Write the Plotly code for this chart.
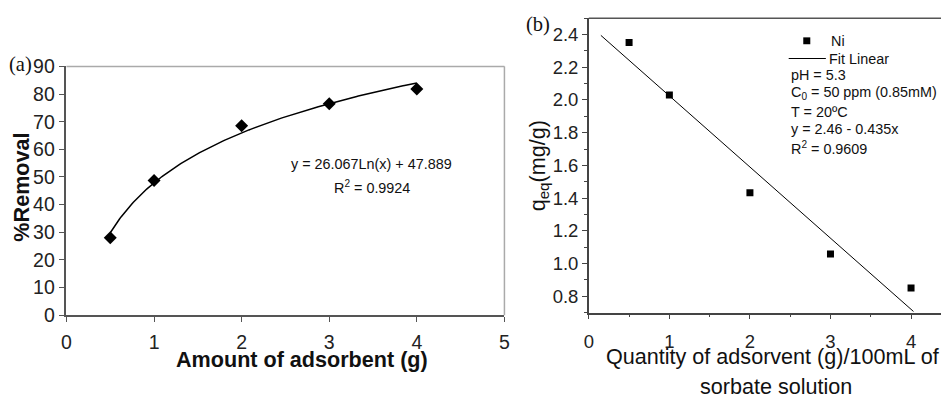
import numpy as np
import plotly.graph_objects as go

W, H = 949, 402
# Empirical mapping from figure pixels to the captured picture
SX, OX = 0.984, 7.8
SY, OY = 0.961, 7.7

# Panel (a) data
a_x = [0.5, 1, 2, 3, 4]
a_y = [28.0, 48.7, 68.5, 76.5, 81.8]
a_fit_coef = [26.067, 47.889]      # y = a*ln(x) + b
a_fit_xrange = [0.5, 4.0]
a_xticks = [0, 1, 2, 3, 4, 5]
a_yticks = [0, 10, 20, 30, 40, 50, 60, 70, 80, 90]

# Panel (b) data
b_x = [0.5, 1, 2, 3, 4]
b_y = [2.352, 2.03, 1.432, 1.058, 0.85]
b_fit_coef = [2.46, -0.435]        # y = a + b*x
b_fit_xrange = [0.15, 4.03]
b_xticks = [0, 1, 2, 3, 4]
b_yticks = [0.8, 1.0, 1.2, 1.4, 1.6, 1.8, 2.0, 2.2, 2.4]

FONT = "Liberation Sans, Arial, sans-serif"

def fxp(x):   # target picture x -> figure x px
    return (x - OX) / SX

def fyp(y):
    return (y - OY) / SY

def px(x):
    return fxp(x) / W

def py(y):
    return 1 - fyp(y) / H

def fs(s):
    return s / ((SX + SY) / 2)

fig = go.Figure()

fx = np.linspace(a_fit_xrange[0], a_fit_xrange[1], 200)
fy = a_fit_coef[0] * np.log(fx) + a_fit_coef[1]
fig.add_trace(go.Scatter(x=fx, y=fy, mode="lines", line=dict(color="black", width=1.5),
                         xaxis="x", yaxis="y", showlegend=False, hoverinfo="skip"))
fig.add_trace(go.Scatter(x=a_x, y=a_y, mode="markers",
                         marker=dict(symbol="diamond", size=10, color="black"),
                         xaxis="x", yaxis="y", showlegend=False))

bx = np.array(b_fit_xrange)
by = b_fit_coef[0] + b_fit_coef[1] * bx
fig.add_trace(go.Scatter(x=bx, y=by, mode="lines", line=dict(color="black", width=1),
                         xaxis="x2", yaxis="y2", showlegend=False, hoverinfo="skip"))
fig.add_trace(go.Scatter(x=b_x, y=b_y, mode="markers",
                         marker=dict(symbol="square", size=7, color="black"),
                         xaxis="x2", yaxis="y2", showlegend=False))

base = dict(showgrid=False, zeroline=False, showline=True, ticks="outside")

# (b) x axis: 80.2 picture px per unit, domain ends at figure edge
b_xmax = (W - fxp(589)) * SX / 80.2

fig.update_layout(
    width=W, height=H,
    margin=dict(l=0, r=0, t=0, b=0),
    paper_bgcolor="white", plot_bgcolor="white",
    showlegend=False,
    xaxis=dict(domain=[px(69), px(505)], range=[0, 5], tickvals=a_xticks,
               linecolor="#555", linewidth=1.5, ticklen=5, tickcolor="#555",
               ticklabelstandoff=4,
               anchor="y", tickfont=dict(family=FONT, size=fs(19), color="#222"), **base),
    yaxis=dict(domain=[py(317), py(64)], range=[0, 90], tickvals=a_yticks,
               linecolor="#555", linewidth=1.5, ticklen=6, tickcolor="#555",
               anchor="x", tickfont=dict(family=FONT, size=fs(19), color="#222"), **base),
    xaxis2=dict(domain=[px(589), 1.0], range=[0, b_xmax], tickvals=b_xticks,
                linecolor="#444", linewidth=1.5, ticklen=5, tickcolor="#444",
                ticklabelstandoff=6,
                minor=dict(dtick=0.5, ticklen=3, ticks="outside", tickcolor="#444"),
                anchor="y2", tickfont=dict(family=FONT, size=fs(18), color="#222"), **base),
    yaxis2=dict(domain=[py(314.3), py(15)], range=[0.7, 2.5], tickvals=b_yticks,
                tickformat=".1f",
                linecolor="#444", linewidth=1.5, ticklen=5, tickcolor="#444",
                minor=dict(dtick=0.1, ticklen=3, ticks="outside", tickcolor="#444"),
                anchor="x2", tickfont=dict(family=FONT, size=fs(18), color="#222"), **base),
)

shapes = [
    dict(type="line", xref="paper", yref="paper", x0=px(69), x1=px(505), y0=py(64), y1=py(64),
         line=dict(color="#aaa", width=1.5)),
    dict(type="line", xref="paper", yref="paper", x0=px(505), x1=px(505), y0=py(64), y1=py(317),
         line=dict(color="#aaa", width=1.5)),
    dict(type="line", xref="paper", yref="paper", x0=px(589), x1=1.0, y0=py(15), y1=py(15),
         line=dict(color="#555", width=1.5)),
    dict(type="rect", xref="paper", yref="paper", x0=px(802.5), x1=px(809.5), y0=py(41.5), y1=py(34.5),
         fillcolor="black", line=dict(width=0)),
    dict(type="line", xref="paper", yref="paper", x0=px(788), x1=px(825), y0=py(56), y1=py(56),
         line=dict(color="black", width=1)),
]
fig.update_layout(shapes=shapes)

def ann(text, x, y, size, xanchor="center", bold=False, angle=0, family=FONT, color="#111"):
    if bold:
        text = "<b>" + text + "</b>"
    return dict(text=text, x=px(x), y=py(y), xref="paper", yref="paper", showarrow=False,
                xanchor=xanchor, yanchor="middle", textangle=angle,
                font=dict(family=family, size=fs(size), color=color))

annotations = [
    ann("(a)", 23, 62, 20, family="Liberation Serif, Times New Roman, serif"),
    ann("(b)", 538, 21, 20, family="Liberation Serif, Times New Roman, serif"),
    ann("%Removal", 24, 187, 21, bold=True, angle=-90),
    ann("Amount of adsorbent (g)", 303, 362, 21, bold=True),
    ann("y = 26.067Ln(x) + 47.889", 373, 163, 14),
    ann("R<sup>2</sup> = 0.9924", 373, 187, 14),
    ann("q<sub>eq</sub>(mg/g)", 539, 165, 21, angle=-90),
    ann("Quantity of adsorvent (g)/100mL of", 772, 359, 21),
    ann("sorbate solution", 775, 389, 21),
    ann("Ni", 828, 38, 14, xanchor="left"),
    ann("Fit Linear", 826, 56, 14, xanchor="left"),
    ann("pH = 5.3", 788, 73, 14, xanchor="left"),
    ann("C<sub>0</sub> = 50 ppm (0.85mM)", 788, 91, 14, xanchor="left"),
    ann("T = 20ºC", 788, 110, 14, xanchor="left"),
    ann("y = 2.46 - 0.435x", 788, 128, 14, xanchor="left"),
    ann("R<sup>2</sup> = 0.9609", 788, 147, 14, xanchor="left"),
]
fig.update_layout(annotations=annotations)

fig.write_html("out.html")
